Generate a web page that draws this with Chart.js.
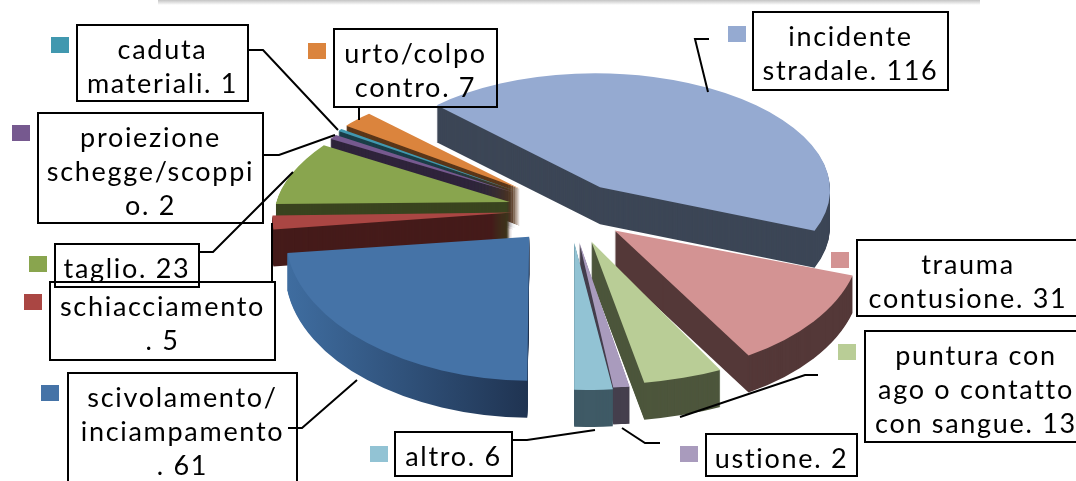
<!DOCTYPE html>
<html>
<head>
<meta charset="utf-8">
<script src="https://cdn.jsdelivr.net/npm/chart.js@4"></script>
<style>
  html, body { margin: 0; padding: 0; background: #fff; overflow: hidden; }
  #infortuni { display: block; filter: blur(0.4px); }
</style>
</head>
<body>
<canvas id="infortuni" width="1076" height="481"></canvas>
<script>
// data
const categories = ["incidente stradale", "trauma contusione", "puntura con ago o contatto con sangue", "ustione", "altro", "scivolamento/inciampamento", "schiacciamento", "taglio", "proiezione schegge/scoppio", "caduta materiali", "urto/colpo contro"];
const values = [116, 31, 13, 2, 6, 61, 5, 23, 2, 1, 7];

// colours
const topColors = ["#95AAD1", "#D39393", "#B9CD96", "#A99BBD", "#92C3D4", "#4573A7", "#AA4643", "#89A54E", "#76598F", "#4198AF", "#DB843D"];
const wallColors = ["#3C4656", "#543838", "#4D563C", "#453F4D", "#3F5A66", "#3E6A9A", "#451B1A", "#3A441F", "#2F243B", "#1A3E48", "#5A3619"];

// fake 3d: how far each slice is pulled out, and its squash [a, b, c, d]
const explode = [60, 56, 58, 55, 55, 63, 60, 69, 78, 75, 77];
const squash = [
  [0.92, 0, 0.02, 0.456],
  [0.98, -0.042, 0.1215, 0.576],
  [1.062, 0, 0.0596, 0.57],
  [1.4, 0, 0, 0.585],
  [1.1, 0, 0.048, 0.59],
  [0.975, -0.012, 0.035, 0.576],
  [0.96, -0.0245, 0, 0.48],
  [0.9387, -0.0198, -0.0883, 0.455],
  [0.87, 0, 0, 0.4],
  [0.874, 0, 0, 0.42],
  [0.856, 0.017, 0.012, 0.4],
];
const pieCenter = [570, 210];
const depth = 37;
const backToFront = [0, 10, 9, 8, 7, 6, 5, 1, 2, 3, 4];

// label boxes: x, y, w, h, char positions where the text wraps
const boxes = [
  [753, 12, 195, 78, [9]],
  [857, 240, 222, 76, [6]],
  [865, 331, 222, 111, [12, 27]],
  [706, 434, 151, 42, []],
  [395, 432, 117, 44, []],
  [68, 373, 229, 120, [13, 26]],
  [50, 282, 225, 78, [14]],
  [55, 244, 144, 43, []],
  [38, 113, 225, 110, [11, 25]],
  [77, 25, 171, 76, [7]],
  [334, 29, 163, 78, [11]],
];
const keys = [[728, 26], [831, 252], [838, 344], [680, 446], [370, 446], [41, 385], [24, 294], [29, 256], [12, 125], [51, 37], [308, 43]];
const leaders = [
  [[708, 92], [695, 39], [709, 39]],
  [],
  [[680, 417], [805, 375], [818, 375]],
  [[622, 428], [645, 443], [660, 443]],
  [[512, 440], [527, 440], [595, 430]],
  [[288, 428], [302, 428], [357, 380]],
  [[272, 223], [272, 282]],
  [[199, 252], [213, 252], [293, 172]],
  [[263, 155], [279, 155], [335, 135]],
  [[248, 50], [263, 50], [338, 130]],
  [[359, 107], [359, 120]],
];

function wallFill(ctx, arc, i) {
  // the blue slice has a shaded side
  if (i === 5) {
    const g = ctx.createLinearGradient(arc.x - 250, 0, arc.x, 0);
    g.addColorStop(0, "#3F6DA0");
    g.addColorStop(1, "#1E314E");
    return g;
  }
  return wallColors[i];
}

function placeSlice(ctx, arc, i, drop) {
  const mid = (arc.startAngle + arc.endAngle) / 2;
  const ex = Math.cos(mid) * explode[i];
  const ey = Math.sin(mid) * explode[i];
  const [a, b, c, d] = squash[i];
  ctx.translate(pieCenter[0] + a * ex + c * ey, pieCenter[1] + drop + b * ex + d * ey);
  ctx.transform(a, b, c, d, 0, 0);
  ctx.translate(-arc.x, -arc.y);
}

const pie3d = {
  id: "pie3d",
  beforeDatasetsDraw(chart) {
    const ctx = chart.ctx;
    const arcs = chart.getDatasetMeta(0).data;
    backToFront.forEach((i) => {
      const arc = arcs[i];
      const own = arc.options;
      // side wall: same arc stacked downwards
      arc.options = { ...own, backgroundColor: wallFill(ctx, arc, i) };
      for (let h = depth; h > 0; h--) {
        ctx.save();
        placeSlice(ctx, arc, i, h);
        arc.draw(ctx);
        ctx.restore();
      }
      arc.options = own;
      ctx.save();
      placeSlice(ctx, arc, i, 0);
      arc.draw(ctx);
      ctx.restore();
    });
    return false;
  },
  beforeDraw(chart) {
    // shadow of the title box cut by the crop
    const ctx = chart.ctx;
    const g = ctx.createLinearGradient(0, 0, 0, 5);
    g.addColorStop(0, "#c4c4c4");
    g.addColorStop(1, "#ffffff");
    ctx.fillStyle = g;
    ctx.fillRect(158, 0, 822, 5);
  },
  afterDraw(chart) {
    const ctx = chart.ctx;
    ctx.save();
    ctx.strokeStyle = "#000";
    ctx.lineWidth = 2;
    leaders.forEach((line) => {
      if (!line.length) return;
      ctx.beginPath();
      line.forEach((p, n) => (n ? ctx.lineTo(p[0], p[1]) : ctx.moveTo(p[0], p[1])));
      ctx.stroke();
    });
    ctx.font = "27px Lato";
    ctx.letterSpacing = "1.7px";
    ctx.textAlign = "center";
    ctx.textBaseline = "middle";
    categories.forEach((cat, i) => {
      const [x, y, w, h, cuts] = boxes[i];
      ctx.fillStyle = topColors[i];
      ctx.fillRect(keys[i][0], keys[i][1], 18, 16);
      ctx.strokeRect(x, y, w, h);
      const text = cat + ". " + values[i];
      const stops = [0, ...cuts, text.length];
      ctx.fillStyle = "#000";
      for (let n = 0; n < stops.length - 1; n++) {
        ctx.fillText(text.slice(stops[n], stops[n + 1]).trim(), x + w / 2, y + 25 + n * 34);
      }
    });
    ctx.restore();
  },
};

const infortuni = document.getElementById("infortuni").getContext("2d");

let myChart = new Chart(infortuni, {
  type: "pie",
  data: {
    labels: categories,
    datasets: [
      {
        data: values,
        backgroundColor: topColors,
        borderWidth: 0,
      },
    ],
  },
  options: {
    responsive: false,
    animation: false,
    events: [],
    radius: 250,
    rotation: 316,
    plugins: {
      legend: {
        display: false,
      },
      tooltip: {
        enabled: false,
      },
    },
  },
  plugins: [pie3d],
});
</script>
</body>
</html>
